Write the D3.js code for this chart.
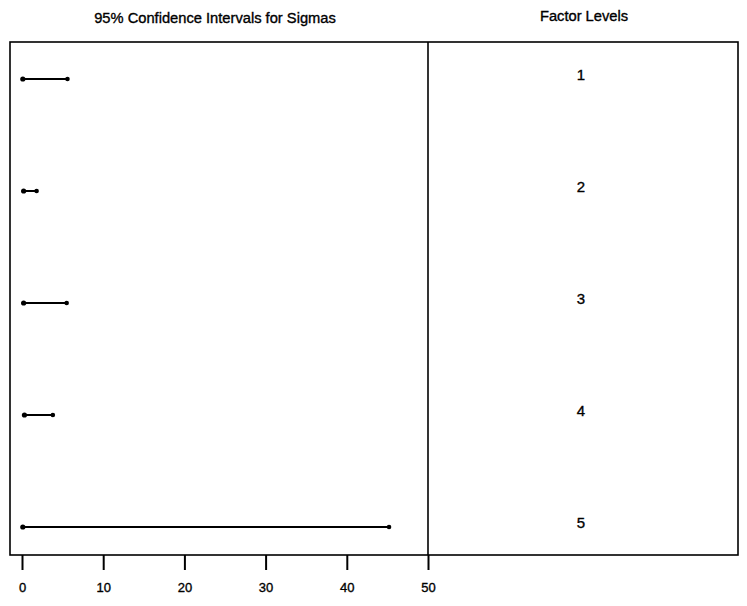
<!DOCTYPE html>
<html>
<head>
<meta charset="utf-8">
<script src="https://cdn.jsdelivr.net/npm/d3@7"></script>
<style>
  body { margin: 0; background: #fff; }
  svg { display: block; font-family: "Liberation Sans", Arial, sans-serif; }
  text { stroke: #000; stroke-width: 0.35px; }
</style>
</head>
<body>
<svg id="chart" width="747" height="606"></svg>
<script>
const levels = ['1', '2', '3', '4', '5'];
const lower = [0.1, 0.2, 0.2, 0.3, 0.1];
const upper = [5.6, 1.8, 5.5, 3.8, 45.2];
const xTicks = [0, 10, 20, 30, 40, 50];

const svg = d3.select('#chart');

const frameLeft = 10;
const frameTop = 42;
const frameBottom = 555;
const divider = 428;
const frameRight = 738;

const x = d3.scaleLinear().domain([0, 50]).range([22, divider]);
const y = d3.scalePoint().domain(levels).range([79, 527]);

// frame
svg.append('rect')
  .attr('x', frameLeft)
  .attr('y', frameTop)
  .attr('width', frameRight - frameLeft)
  .attr('height', frameBottom - frameTop)
  .attr('fill', 'none')
  .attr('stroke', '#000')
  .attr('stroke-width', 1.6);

svg.append('line')
  .attr('x1', divider).attr('x2', divider)
  .attr('y1', frameTop).attr('y2', frameBottom)
  .attr('stroke', '#000')
  .attr('stroke-width', 1.6);

// titles
svg.append('text')
  .attr('x', 215).attr('y', 23)
  .attr('text-anchor', 'middle')
  .attr('font-size', 14.7)
  .text('95% Confidence Intervals for Sigmas');

svg.append('text')
  .attr('x', 584).attr('y', 21)
  .attr('text-anchor', 'middle')
  .attr('font-size', 14.7)
  .text('Factor Levels');

// x axis
const axis = svg.append('g')
  .attr('transform', `translate(0,${frameBottom})`)
  .call(d3.axisBottom(x).tickValues(xTicks).tickSize(15).tickPadding(13));
axis.select('.domain').remove();
axis.selectAll('.tick line').attr('stroke-width', 2);
axis.selectAll('.tick text')
  .attr('font-size', 13)
  .attr('font-family', '"Liberation Sans", Arial, sans-serif')
  .attr('fill', '#000');

// intervals
const rows = levels.map((d, i) => ({ level: d, lo: lower[i], hi: upper[i] }));

const g = svg.append('g');
g.selectAll('line.ci')
  .data(rows)
  .join('line')
  .attr('class', 'ci')
  .attr('x1', d => x(d.lo))
  .attr('x2', d => x(d.hi))
  .attr('y1', d => y(d.level))
  .attr('y2', d => y(d.level))
  .attr('stroke', '#000')
  .attr('stroke-width', 2);

g.selectAll('circle.lo')
  .data(rows)
  .join('circle')
  .attr('class', 'lo')
  .attr('cx', d => x(d.lo))
  .attr('cy', d => y(d.level))
  .attr('r', 2.6);

g.selectAll('circle.hi')
  .data(rows)
  .join('circle')
  .attr('class', 'hi')
  .attr('cx', d => x(d.hi))
  .attr('cy', d => y(d.level))
  .attr('r', 2.3);

// level labels
svg.append('g')
  .selectAll('text')
  .data(levels)
  .join('text')
  .attr('x', 581)
  .attr('y', d => y(d) + 1)
  .attr('text-anchor', 'middle')
  .attr('font-size', 15)
  .text(d => d);
</script>
</body>
</html>
